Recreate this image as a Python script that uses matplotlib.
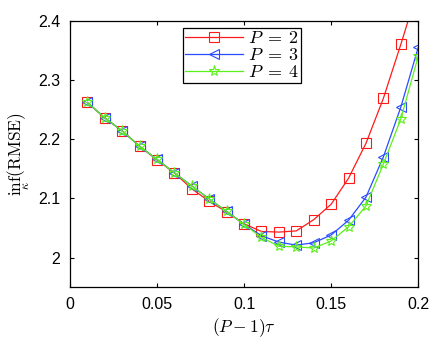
import matplotlib
matplotlib.use("Agg")
import matplotlib.pyplot as plt

plt.rcParams['font.family'] = ['Liberation Sans', 'DejaVu Sans']
plt.rcParams['mathtext.fontset'] = 'cm'

x = [0.01, 0.02, 0.03, 0.04, 0.05, 0.06, 0.07, 0.08, 0.09, 0.10,
     0.11, 0.12, 0.13, 0.14, 0.15, 0.16, 0.17, 0.18, 0.19, 0.20]
p2 = [2.262, 2.236, 2.214, 2.188, 2.165, 2.143, 2.116, 2.095, 2.077, 2.057,
      2.044, 2.043, 2.045, 2.064, 2.090, 2.134, 2.193, 2.269, 2.360, 2.455]
p3 = [2.262, 2.236, 2.214, 2.188, 2.166, 2.143, 2.121, 2.099, 2.078, 2.056,
      2.037, 2.026, 2.021, 2.025, 2.038, 2.063, 2.102, 2.170, 2.254, 2.355]
p4 = [2.262, 2.236, 2.214, 2.188, 2.166, 2.143, 2.121, 2.099, 2.078, 2.056,
      2.034, 2.019, 2.018, 2.016, 2.028, 2.052, 2.087, 2.158, 2.234, 2.340]
labels = [r'$P\;=\;2$', r'$P\;=\;3$', r'$P\;=\;4$']
xticks = [0, 0.05, 0.1, 0.15, 0.2]
xticklabels = ['0', '0.05', '0.1', '0.15', '0.2']
yticks = [2.0, 2.1, 2.2, 2.3, 2.4]
yticklabels = ['2', '2.1', '2.2', '2.3', '2.4']

fig = plt.figure(figsize=(4.37, 3.41), dpi=100)
ax = fig.add_axes([0.160, 0.158, 0.797, 0.781])

ax.plot(x, p2, color='#ff1a1a', lw=0.9, marker='s', ms=6.5, mfc='none', mew=0.8, label=labels[0])
ax.plot(x, p3, color='#2a4bff', lw=0.9, marker='<', ms=7, mfc='none', mew=0.8, label=labels[1])
ax.plot(x, p4, color='#5cf01a', lw=0.9, marker='*', ms=8, mfc='none', mew=0.8, label=labels[2])

ax.set_xlim(0, 0.2)
ax.set_ylim(1.95, 2.4)
ax.set_xticks(xticks)
ax.set_xticklabels(xticklabels)
ax.set_yticks(yticks)
ax.set_yticklabels(yticklabels)
ax.tick_params(direction='in', top=True, right=True, labelsize=11.5, length=3, width=0.8, pad=7)
for s in ax.spines.values():
    s.set_linewidth(0.9)

ax.set_xlabel(r'$(P-1)\tau$', fontsize=12.5, labelpad=3)
ax.set_ylabel(r'$\underset{\kappa}{\mathrm{inf}}(\mathrm{RMSE})$', fontsize=12.5, labelpad=4)

leg = ax.legend(loc='upper left', bbox_to_anchor=(0.315, 0.985), fontsize=13,
                frameon=True, fancybox=False, edgecolor='black', framealpha=1,
                borderpad=0.1, labelspacing=0.0, handlelength=3.2, handletextpad=0.3,
                borderaxespad=0.2)
leg.get_frame().set_linewidth(0.9)

fig.savefig('out.png', dpi=100)
